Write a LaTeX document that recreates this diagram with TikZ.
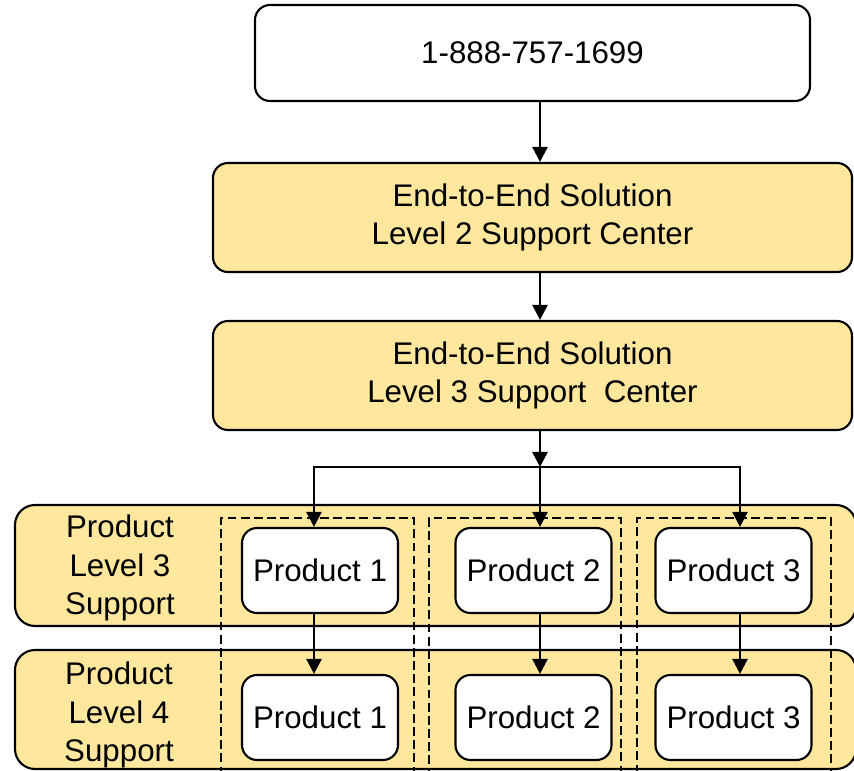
\documentclass[tikz,border=0pt]{standalone}
\usepackage{fontspec}
\setmainfont{Liberation Sans}
\usetikzlibrary{positioning, arrows.meta, calc}
\definecolor{paleyellow}{HTML}{FFE89E}

\begin{document}
\begin{tikzpicture}[
    font=\fontsize{17.8}{22}\selectfont,
    box/.style={rectangle, draw=black, line width=1.2pt, rounded corners=0.3cm, align=center},
    center/.style={box, fill=paleyellow, minimum width=12.78cm, minimum height=2.18cm},
    band/.style={rectangle, draw=black, line width=1.2pt, fill=paleyellow, rounded corners=0.4cm, minimum width=16.82cm},
    product/.style={box, fill=white, minimum width=3.12cm, minimum height=1.7cm},
    lane/.style={rectangle, draw=black, line width=1.4pt, dash pattern=on 5pt off 2.5pt, anchor=north west, minimum height=5.5cm},
    arrow/.style={-{Triangle[length=0.3cm, width=0.3cm]}, line width=1.4pt, black}
]
\useasboundingbox (0,0) rectangle (17.08,-15.42);

% ==================== TOP: HOTLINE & CENTERS ====================
\node[box, fill=white, minimum width=11.1cm, minimum height=1.92cm] (phone) at (10.65, -1.06) {1-888-757-1699};
\node[center] (lvltwo) at (10.65, -4.35) {\raisebox{-3pt}{End-to-End Solution}\\\raisebox{-3pt}{Level 2 Support Center}};
\node[center] (lvlthree) at (10.65, -7.51) {\raisebox{-3pt}{End-to-End Solution}\\\raisebox{-3pt}{Level 3 Support\ \ Center}};

% ==================== BOTTOM: PRODUCT BANDS ====================
\node[band, minimum height=2.42cm] (bandthree) at (8.71, -11.31) {};
\node[band, minimum height=2.38cm] (bandfour) at (8.71, -14.19) {};
\node[align=center] (labthree) at (2.4, -11.36) {Product\\Level 3\\Support};
\node[align=center] (labfour) at (2.38, -14.3) {Product\\Level 4\\Support};

% Product lanes
\node[lane, minimum width=3.86cm] (laneA) at (4.4, -10.34) {};
\node[lane, minimum width=3.84cm] (laneB) at (8.56, -10.34) {};
\node[lane, minimum width=3.88cm] (laneC) at (12.72, -10.34) {};

\node[product] (prodA1) at (6.4, -11.41) {Product 1};
\node[product] (prodB1) at (10.67, -11.41) {Product 2};
\node[product] (prodC1) at (14.67, -11.41) {Product 3};
\node[product] (prodA2) at (6.4, -14.35) {Product 1};
\node[product] (prodB2) at (10.67, -14.35) {Product 2};
\node[product] (prodC2) at (14.67, -14.35) {Product 3};

% ==================== ARROWS & FLOW ====================
\coordinate (spine) at (10.8, 0);
\coordinate (fork) at (10.8, -9.34);
\coordinate (colA) at (6.28, 0);
\coordinate (colB) at (10.8, 0);
\coordinate (colC) at (14.8, 0);

\draw[arrow] (phone.south -| spine) -- (lvltwo.north -| spine);
\draw[arrow] (lvltwo.south -| spine) -- (lvlthree.north -| spine);
\draw[arrow] (lvlthree.south -| spine) -- (fork);

% Fork to products
\draw[arrow] (fork) -| (prodA1.north -| colA);
\draw[arrow] (fork) -- (prodB1.north -| colB);
\draw[arrow] (fork) -| (prodC1.north -| colC);

% Level 3 to Level 4
\draw[arrow] (prodA1.south -| colA) -- (prodA2.north -| colA);
\draw[arrow] (prodB1.south -| colB) -- (prodB2.north -| colB);
\draw[arrow] (prodC1.south -| colC) -- (prodC2.north -| colC);

\end{tikzpicture}
\end{document}
